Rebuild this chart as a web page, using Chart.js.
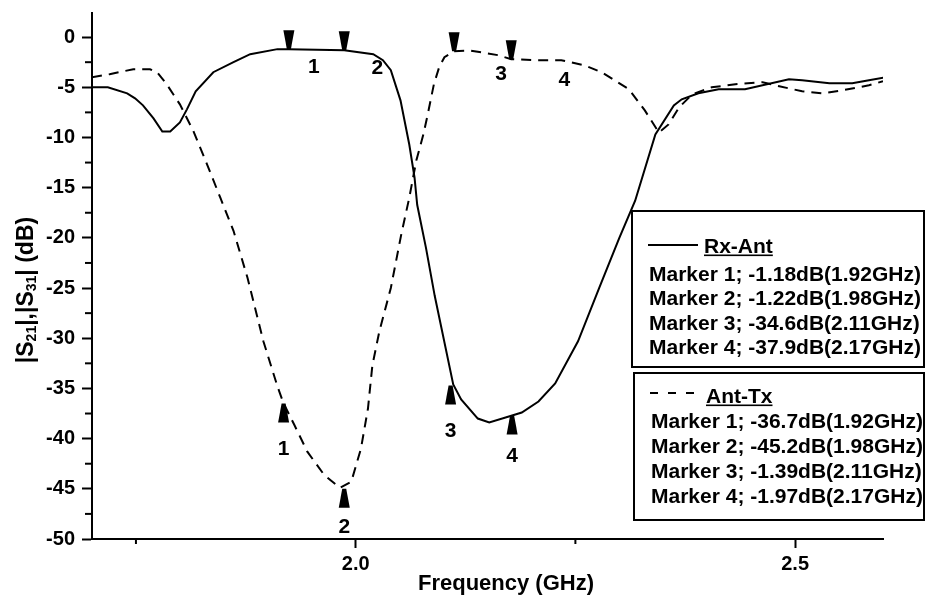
<!DOCTYPE html>
<html>
<head>
<meta charset="utf-8">
<script src="https://cdn.jsdelivr.net/npm/chart.js@4.4.1/dist/chart.umd.min.js"></script>
<style>
  html, body { margin: 0; padding: 0; background: #fff; }
  #wrap { width: 926px; height: 599px; }
</style>
</head>
<body>
<div id="wrap"><canvas id="meinChart" width="926" height="599"></canvas></div>
<script>
// ---- data
const rxFreq = [1.700, 1.718, 1.740, 1.749, 1.758, 1.770, 1.780, 1.789, 1.800, 1.808, 1.818, 1.838, 1.861, 1.880, 1.911,
  1.924, 1.987, 2.020, 2.031, 2.040, 2.051, 2.061, 2.067, 2.070, 2.080, 2.090, 2.111, 2.120, 2.139, 2.152, 2.178, 2.189,
  2.208, 2.227, 2.253, 2.277, 2.300, 2.318, 2.341, 2.362, 2.371, 2.390, 2.413, 2.443, 2.493, 2.508, 2.539, 2.565, 2.584, 2.603];
const rxDb = [-5.0, -5.0, -5.6, -6.1, -6.8, -8.1, -9.4, -9.4, -8.5, -7.2, -5.4, -3.5, -2.5, -1.7, -1.2,
  -1.2, -1.3, -1.7, -2.3, -3.3, -6.3, -10.7, -14.0, -16.7, -21.0, -25.8, -34.6, -36.1, -38.0, -38.4, -37.7, -37.4,
  -36.3, -34.5, -30.3, -25.0, -20.0, -16.3, -9.7, -6.8, -6.2, -5.6, -5.2, -5.2, -4.2, -4.3, -4.6, -4.6, -4.3, -4.0];

const txFreq = [1.700, 1.720, 1.747, 1.766, 1.774, 1.785, 1.800, 1.815, 1.831, 1.846, 1.861, 1.877, 1.895, 1.911, 1.918,
  1.930, 1.945, 1.964, 1.982, 1.995, 2.006, 2.014, 2.019, 2.027, 2.040, 2.052, 2.061, 2.069, 2.077, 2.082, 2.089, 2.095,
  2.101, 2.112, 2.131, 2.162, 2.177, 2.203, 2.234, 2.260, 2.280, 2.311, 2.329, 2.345, 2.356, 2.368, 2.383, 2.405, 2.432,
  2.463, 2.482, 2.508, 2.531, 2.554, 2.584, 2.600];
const txDb = [-4.0, -3.7, -3.2, -3.2, -3.5, -4.7, -6.7, -9.3, -12.7, -16.0, -19.3, -24.0, -30.3, -34.8, -36.5,
  -38.6, -41.3, -43.6, -44.9, -44.3, -41.0, -37.0, -32.7, -29.3, -25.0, -19.6, -16.0, -12.3, -9.7, -7.7, -4.7, -3.0,
  -2.0, -1.4, -1.35, -1.8, -2.2, -2.3, -2.3, -2.8, -3.5, -5.2, -7.3, -9.5, -8.7, -7.0, -5.7, -5.0, -4.7,
  -4.5, -4.9, -5.4, -5.6, -5.3, -4.8, -4.4];

// markers (position on the curves as drawn)
const rxMarkerFreq = [1.924, 1.987, 2.108, 2.178];
const rxMarkerDb = [-1.2, -1.3, -34.7, -37.7];
const txMarkerFreq = [1.918, 1.987, 2.112, 2.177];
const txMarkerDb = [-36.5, -45.0, -1.4, -2.2];
const markerNames = ['1', '2', '3', '4'];

const rxLegendTitle = 'Rx-Ant';
const rxLegendRows = ['Marker 1; -1.18dB(1.92GHz)', 'Marker 2; -1.22dB(1.98GHz)',
  'Marker 3; -34.6dB(2.11GHz)', 'Marker 4; -37.9dB(2.17GHz)'];
const txLegendTitle = 'Ant-Tx';
const txLegendRows = ['Marker 1; -36.7dB(1.92GHz)', 'Marker 2; -45.2dB(1.98GHz)',
  'Marker 3; -1.39dB(2.11GHz)', 'Marker 4; -1.97dB(2.17GHz)'];

const xTickValues = [2.0, 2.5];
const xMinorValues = [1.75, 2.25];
const yTickValues = [-50, -45, -40, -35, -30, -25, -20, -15, -10, -5, 0];
const yMinorValues = [-47.5, -42.5, -37.5, -32.5, -27.5, -22.5, -17.5, -12.5, -7.5, -2.5];

const FONT = '"Liberation Sans", Arial, sans-serif';

function pts(xs, ys) {
  return xs.map((x, i) => ({ x: x, y: ys[i] }));
}

// trapezoid marker, tip at (x,y); dir 1 = body above (points down), -1 = body below
function drawMarker(ctx, x, y, dir) {
  const h = 19, wBase = 11, wTip = 4;
  const yb = y - dir * h;
  ctx.beginPath();
  ctx.moveTo(x - wTip / 2, y);
  ctx.lineTo(x + wTip / 2, y);
  ctx.lineTo(x + wBase / 2, yb);
  ctx.lineTo(x - wBase / 2, yb);
  ctx.closePath();
  ctx.fill();
}

const rxMarkerStyle = { dir: [1, 1, -1, -1], off: [[25, 16], [33, 16], [0, 44], [0, 39]] };
const txMarkerStyle = { dir: [-1, -1, 1, 1], off: [[0, 44], [0, 37], [47, 21], [53, 19]] };

function drawLegendBox(ctx, box, title, rows, dashed) {
  ctx.lineWidth = 2;
  ctx.strokeRect(box.x, box.y, box.w, box.h);
  // line sample
  ctx.save();
  ctx.lineWidth = 2;
  if (dashed) ctx.setLineDash([8, 10]);
  ctx.beginPath();
  ctx.moveTo(box.x + 16, box.lineY);
  ctx.lineTo(box.x + 66, box.lineY);
  ctx.stroke();
  ctx.restore();
  ctx.font = 'bold 21px ' + FONT;
  ctx.textAlign = 'left';
  ctx.textBaseline = 'alphabetic';
  const tx = box.x + 72;
  ctx.fillText(title, tx, box.titleBase);
  const tw = ctx.measureText(title).width;
  ctx.fillRect(tx, box.titleBase + 2, tw, 1.6);
  rows.forEach((r, i) => {
    ctx.fillText(r, box.textX, box.rowBase + i * box.rowStep);
  });
}

const overlayPlugin = {
  id: 'overlay',
  afterDraw(chart) {
    const ctx = chart.ctx, xs = chart.scales.x, ys = chart.scales.y;
    const area = chart.chartArea;
    ctx.save();
    ctx.strokeStyle = '#000';
    ctx.fillStyle = '#000';

    // minor ticks
    ctx.lineWidth = 2;
    yMinorValues.forEach(v => {
      const py = ys.getPixelForValue(v);
      ctx.beginPath(); ctx.moveTo(area.left - 7, py); ctx.lineTo(area.left, py); ctx.stroke();
    });
    xMinorValues.forEach(v => {
      const px = xs.getPixelForValue(v);
      ctx.beginPath(); ctx.moveTo(px, area.bottom); ctx.lineTo(px, area.bottom + 5); ctx.stroke();
    });

    // markers + labels
    ctx.font = 'bold 21px ' + FONT;
    ctx.textAlign = 'center';
    ctx.textBaseline = 'alphabetic';
    [[rxMarkerFreq, rxMarkerDb, rxMarkerStyle], [txMarkerFreq, txMarkerDb, txMarkerStyle]].forEach(set => {
      const [f, d, st] = set;
      f.forEach((v, i) => {
        const px = xs.getPixelForValue(v), py = ys.getPixelForValue(d[i]);
        drawMarker(ctx, px, py, st.dir[i]);
        ctx.fillText(markerNames[i], px + st.off[i][0], py + st.off[i][1] + 7.5);
      });
    });

    // axis titles
    ctx.font = 'bold 22px ' + FONT;
    ctx.textAlign = 'center';
    ctx.fillText('Frequency (GHz)', 506, 590);

    ctx.save();
    ctx.translate(33, 290);
    ctx.rotate(-Math.PI / 2);
    const big = 'bold 23px ' + FONT, sub = 'bold 14px ' + FONT;
    const parts = [['|S', big, 0], ['21', sub, 3], ['|,|S', big, 0], ['31', sub, 3], ['| (dB)', big, 0]];
    let total = 0;
    parts.forEach(p => { ctx.font = p[1]; total += ctx.measureText(p[0]).width; });
    let cx = -total / 2;
    ctx.textAlign = 'left';
    parts.forEach(p => {
      ctx.font = p[1];
      ctx.fillText(p[0], cx, p[2]);
      cx += ctx.measureText(p[0]).width;
    });
    ctx.restore();

    // legend boxes
    drawLegendBox(ctx, { x: 632, y: 211, w: 292, h: 156, lineY: 245, titleBase: 252.5, textX: 649, rowBase: 280.5, rowStep: 24.5 },
      rxLegendTitle, rxLegendRows, false);
    drawLegendBox(ctx, { x: 634, y: 373, w: 290, h: 147, lineY: 393, titleBase: 402.5, textX: 651, rowBase: 427.5, rowStep: 25 },
      txLegendTitle, txLegendRows, true);

    ctx.restore();
  }
};

const data = {
  datasets: [{
    label: 'Rx-Ant',
    data: pts(rxFreq, rxDb),
    borderColor: '#000',
    borderWidth: 2,
    pointRadius: 0,
    tension: 0
  }, {
    label: 'Ant-Tx',
    data: pts(txFreq, txDb),
    borderColor: '#000',
    borderWidth: 2,
    borderDash: [10, 7],
    pointRadius: 0,
    tension: 0
  }]
};

const config = {
  type: 'line',
  data: data,
  plugins: [overlayPlugin],
  options: {
    responsive: false,
    animation: false,
    devicePixelRatio: 1,
    layout: { padding: { left: 0, right: 43, top: 13, bottom: 0 } },
    plugins: { legend: { display: false }, tooltip: { enabled: false } },
    scales: {
      x: {
        type: 'linear',
        min: 1.7,
        max: 2.6,
        afterBuildTicks: s => { s.ticks = xTickValues.map(v => ({ value: v })); },
        afterFit: s => { s.height = 60; s.paddingLeft = 0; s.paddingRight = 0; },
        border: { color: '#000', width: 2 },
        grid: { drawOnChartArea: false, tickLength: 9, tickWidth: 2, tickColor: '#000' },
        ticks: {
          color: '#000',
          font: { family: FONT, size: 20, weight: 'bold' },
          padding: 4,
          maxRotation: 0,
          autoSkip: false,
          callback: v => Number(v).toFixed(1)
        }
      },
      y: {
        min: -50,
        max: 2.4,
        afterBuildTicks: s => { s.ticks = yTickValues.map(v => ({ value: v })); },
        afterFit: s => { s.width = 92; s.paddingTop = 0; s.paddingBottom = 0; },
        border: { color: '#000', width: 2 },
        grid: { drawOnChartArea: false, tickLength: 10, tickWidth: 2, tickColor: '#000' },
        ticks: {
          color: '#000',
          font: { family: FONT, size: 20, weight: 'bold' },
          padding: 7,
          autoSkip: false,
          callback: v => String(v)
        }
      }
    }
  }
};

const myChart = new Chart(document.getElementById('meinChart'), config);
</script>
</body>
</html>
